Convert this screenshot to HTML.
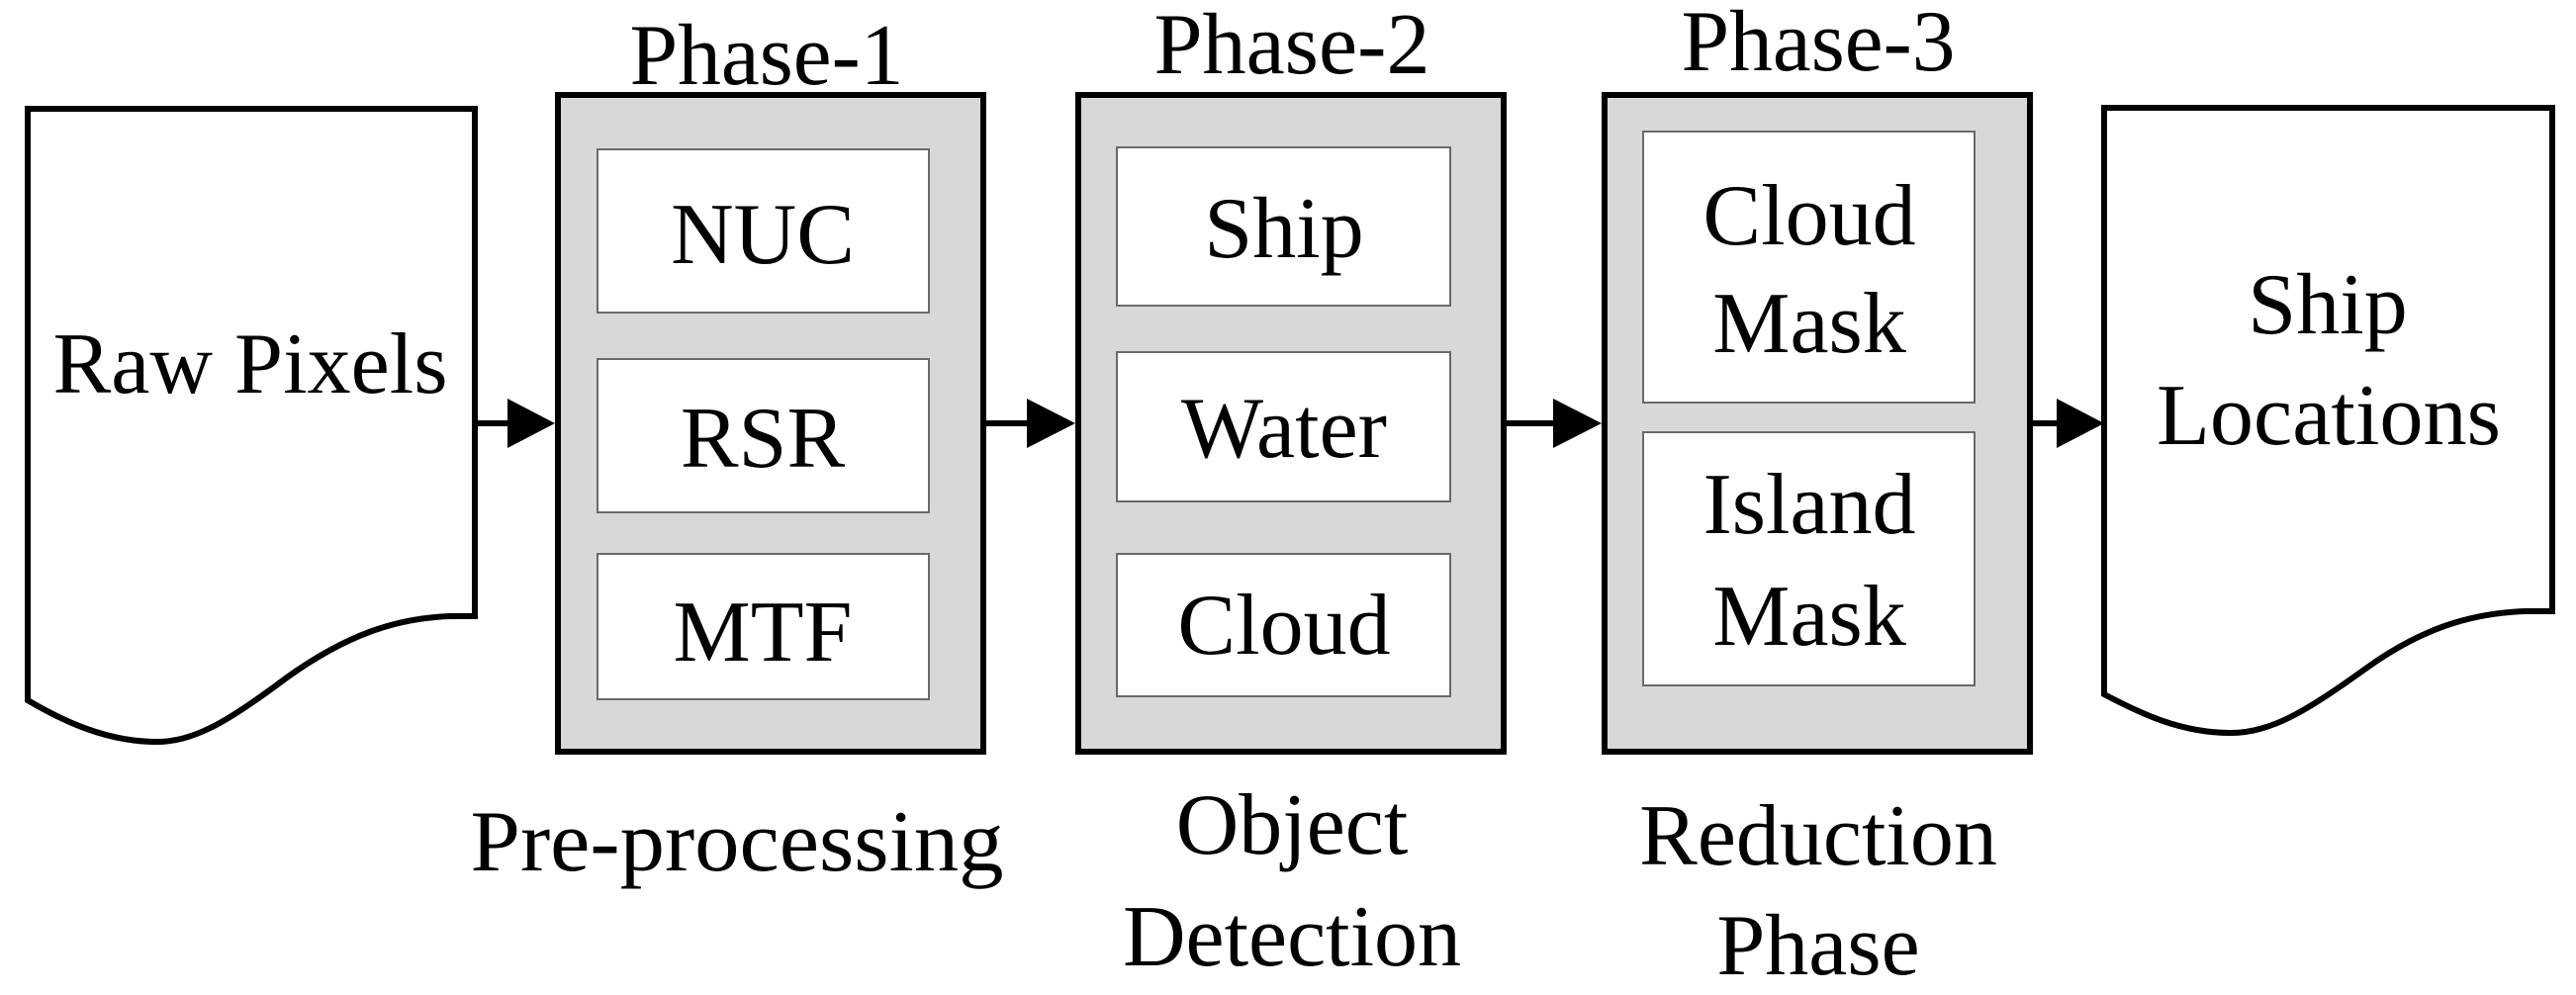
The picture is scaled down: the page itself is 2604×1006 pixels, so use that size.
<!DOCTYPE html>
<html><head><meta charset="utf-8"><style>html,body{margin:0;padding:0;background:#fff}svg{display:block}</style></head>
<body>
<svg width="2604" height="1006" viewBox="0 0 2604 1006" xmlns="http://www.w3.org/2000/svg" font-family="'Liberation Serif', serif" font-size="88" text-anchor="middle" fill="#000">
<!-- Raw Pixels document -->
<path d="M28,110 L480,110 L480,623 L455,623 C400,625 350,642 290,685 C230,730 195,751 155,750 C105,749 62,728 28,708 Z" fill="#fff" stroke="#000" stroke-width="6"/>
<text x="253" y="397" textLength="399" lengthAdjust="spacingAndGlyphs">Raw Pixels</text>
<!-- Ship Locations document -->
<path d="M2127,109 L2580,109 L2580,618 L2553,618 C2495,620 2445,637 2390,677 C2330,720 2295,741 2255,741 C2205,741 2165,722 2127,702 Z" fill="#fff" stroke="#000" stroke-width="6"/>
<text x="2353" y="337">Ship</text>
<text x="2354" y="449" textLength="348" lengthAdjust="spacingAndGlyphs">Locations</text>
<!-- Arrows -->
<g stroke="#000" stroke-width="6">
<line x1="480" y1="428" x2="515" y2="428"/>
<line x1="996" y1="428" x2="1040" y2="428"/>
<line x1="1522" y1="428" x2="1572" y2="428"/>
<line x1="2055" y1="428" x2="2081" y2="428"/>
</g>
<polygon points="513,403 561,428 513,453"/>
<polygon points="1038,403 1087,428 1038,453"/>
<polygon points="1570,403 1619,428 1570,453"/>
<polygon points="2079,403 2127,428 2079,453"/>
<!-- Phase boxes -->
<g fill="#d8d8d8" stroke="#000" stroke-width="6">
<rect x="564" y="96" width="430" height="664"/>
<rect x="1090" y="96" width="430" height="664"/>
<rect x="1622" y="96" width="430" height="664"/>
</g>
<g fill="#fff" stroke="#6a6a6a" stroke-width="2">
<rect x="604" y="151" width="335" height="165"/>
<rect x="604" y="363" width="335" height="155"/>
<rect x="604" y="560" width="335" height="147"/>
<rect x="1129" y="149" width="337" height="160"/>
<rect x="1129" y="356" width="337" height="151"/>
<rect x="1129" y="560" width="337" height="144"/>
<rect x="1661" y="133" width="335" height="274"/>
<rect x="1661" y="437" width="335" height="256"/>
</g>
<text x="775" y="85" textLength="277" lengthAdjust="spacingAndGlyphs">Phase-1</text>
<text x="1306" y="74" textLength="279" lengthAdjust="spacingAndGlyphs">Phase-2</text>
<text x="1838" y="71" textLength="277" lengthAdjust="spacingAndGlyphs">Phase-3</text>
<text x="771" y="266">NUC</text>
<text x="771" y="472">RSR</text>
<text x="771" y="668">MTF</text>
<text x="1298" y="260">Ship</text>
<text x="1298" y="462">Water</text>
<text x="1298" y="661">Cloud</text>
<text x="1829" y="247">Cloud</text>
<text x="1829" y="356">Mask</text>
<text x="1829" y="539">Island</text>
<text x="1829" y="652">Mask</text>
<text x="745" y="880" textLength="539" lengthAdjust="spacingAndGlyphs">Pre-processing</text>
<text x="1306" y="863">Object</text>
<text x="1306" y="976">Detection</text>
<text x="1838" y="874">Reduction</text>
<text x="1838" y="985">Phase</text>
</svg>
</body></html>
